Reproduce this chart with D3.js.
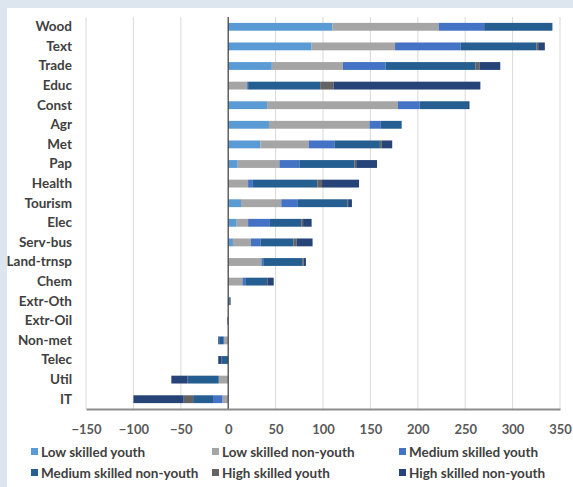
<!DOCTYPE html>
<html>
<head>
<meta charset="utf-8">
<script src="https://cdn.jsdelivr.net/npm/d3@7"></script>
<style>
  body { margin: 0; background: #dde5ee; }
  #chart { position: absolute; left: 7px; top: 8px; width: 566px; height: 479px; background: #ffffff; }
</style>
</head>
<body>
<div id="chart"></div>
<script>
// categories (top to bottom)
const categories = ["Wood", "Text", "Trade", "Educ", "Const", "Agr", "Met", "Pap", "Health", "Tourism",
    "Elec", "Serv-bus", "Land-trnsp", "Chem", "Extr-Oth", "Extr-Oil", "Non-met", "Telec", "Util", "IT"];

// series values, same order as categories
const lowYouth     = [110, 88, 46, 0, 41, 43, 34, 10, 0, 13.5, 9, 5, 0, 0, 0, 0, 0, 0, 0, 0];
const lowNonYouth  = [112, 88, 75, 20, 138, 106, 51, 44, 21, 42.5, 12, 19, 35, 15, 0, 0, -4.5, 0, -10, -6];
const medYouth     = [48, 69, 45, 1, 23, 12, 27, 21, 5, 17.5, 23, 10, 2, 3, 0, 0, -1, 0, 0, -10];
const medNonYouth  = [72, 80, 95, 76, 51, 22, 48, 58, 68, 52, 33, 35, 41, 23, 1.5, -0.8, -4, -7, -33, -21];
const highYouth    = [0, 2, 4, 14, 0, 0, 2, 2, 5, 1, 2, 3, 1.5, 1, 0, 0, 0, 0, 0, -10];
const highNonYouth = [0, 7, 22, 155, 1.5, 0, 11, 22, 39, 4, 9, 17, 2.5, 6, 1, 0, -1, -3.5, -17, -53];

const seriesNames = ["Low skilled youth", "Low skilled non-youth", "Medium skilled youth",
    "Medium skilled non-youth", "High skilled youth", "High skilled non-youth"];
const seriesValues = [lowYouth, lowNonYouth, medYouth, medNonYouth, highYouth, highNonYouth];
const colors = ["#5b9bd5", "#a5a5a5", "#4472c4", "#255e91", "#636363", "#264478"];

const xTicks = [-150, -100, -50, 0, 50, 100, 150, 200, 250, 300, 350];

// dimensions (inside the white panel, which is offset 7,8)
const margin = { top: 9, right: 13, bottom: 78, left: 79 },
    width = 566 - margin.left - margin.right,
    height = 479 - margin.top - margin.bottom;

const svg = d3.select("#chart")
    .append("svg")
    .attr("width", 566)
    .attr("height", 479)
    .style("font-family", "Lato, 'Open Sans', sans-serif");

const g = svg.append("g")
    .attr("transform", `translate(${margin.left},${margin.top})`);

// build table for the stack
const table = categories.map((c, i) => {
    const row = { cat: c };
    seriesNames.forEach((s, j) => row[s] = seriesValues[j][i]);
    return row;
});

const stack = d3.stack()
    .keys(seriesNames)
    .offset(d3.stackOffsetDiverging);
const layers = stack(table);

const x = d3.scaleLinear()
    .domain([-150, 350])
    .range([0, width]);

const y = d3.scaleBand()
    .domain(categories)
    .range([0, height])
    .paddingInner(0.6)
    .paddingOuter(0.3);

// gridlines
g.append("g")
    .selectAll("line")
    .data(xTicks)
    .join("line")
    .attr("x1", d => x(d))
    .attr("x2", d => x(d))
    .attr("y1", 0)
    .attr("y2", height)
    .attr("stroke", "#d9d9d9")
    .attr("stroke-width", 1);

// bars
g.append("g")
    .selectAll("g")
    .data(layers)
    .join("g")
    .attr("fill", (d, i) => colors[i])
    .selectAll("rect")
    .data(d => d)
    .join("rect")
    .attr("x", d => x(Math.min(d[0], d[1])))
    .attr("y", d => y(d.data.cat))
    .attr("width", d => Math.abs(x(d[1]) - x(d[0])))
    .attr("height", y.bandwidth());

// zero line
g.append("line")
    .attr("x1", x(0)).attr("x2", x(0))
    .attr("y1", 0).attr("y2", height)
    .attr("stroke", "#404040")
    .attr("stroke-width", 1.2);

// bottom axis
const xAxis = g.append("g")
    .attr("transform", `translate(0,${height})`)
    .call(d3.axisBottom(x).tickValues(xTicks).tickSize(0).tickPadding(16));
xAxis.select(".domain").attr("stroke", "#8c8c8c").attr("stroke-width", 2);
xAxis.selectAll("text")
    .attr("fill", "#595959")
    .style("font-size", "13px")
    .style("font-weight", "bold")
    .style("font-family", "Lato, sans-serif");

// category labels
const yAxis = g.append("g")
    .call(d3.axisLeft(y).tickSize(0).tickPadding(14));
yAxis.select(".domain").remove();
yAxis.selectAll("text")
    .attr("fill", "#404040")
    .style("font-size", "13.5px")
    .style("font-weight", "bold")
    .style("font-family", "Lato, sans-serif");

// legend
const legendPos = [
    [24, 444], [205, 444], [392, 444],
    [24, 465], [205, 465], [392, 465]
];
const legend = svg.append("g")
    .selectAll("g")
    .data(seriesNames)
    .join("g")
    .attr("transform", (d, i) => `translate(${legendPos[i][0]},${legendPos[i][1]})`);
legend.append("rect")
    .attr("x", 0).attr("y", -4)
    .attr("width", 7).attr("height", 7)
    .attr("fill", (d, i) => colors[i]);
legend.append("text")
    .attr("x", 10)
    .attr("y", 0)
    .attr("dy", "0.35em")
    .attr("fill", "#404040")
    .style("font-size", "13.5px")
    .style("font-weight", "bold")
    .text(d => d);
</script>
</body>
</html>
